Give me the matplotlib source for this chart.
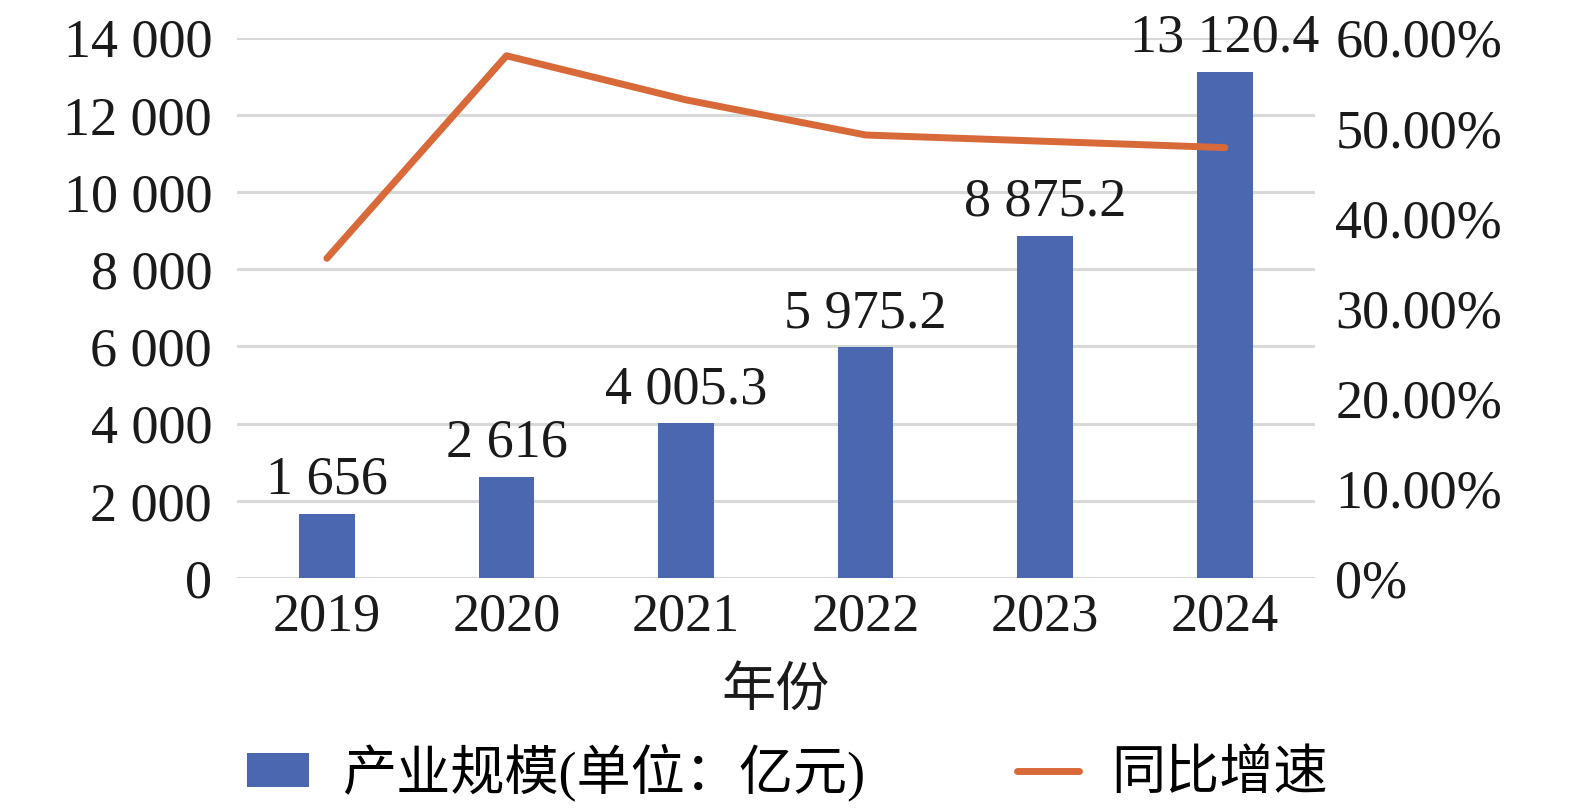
import matplotlib
matplotlib.use("Agg")
import matplotlib.pyplot as plt
from matplotlib.ticker import FuncFormatter

plt.rcParams['font.family'] = ['Liberation Serif', 'Noto Sans CJK SC']

# data
years = ["2019", "2020", "2021", "2022", "2023", "2024"]
scale = [1656, 2616, 4005.3, 5975.2, 8875.2, 13120.4]
growth = [0.355, 0.580, 0.531, 0.492, 0.485, 0.478]

bar_color = "#4A67B0"
line_color = "#D86A3A"
grid_color = "#D9D9D9"
fs = 39


def fmt_num(v):
    if float(v).is_integer():
        s = "{:,}".format(int(v))
    else:
        s = "{:,}".format(v)
    return s.replace(",", " ")


fig = plt.figure(figsize=(15.75, 8.1), dpi=100)
ax = fig.add_axes([0.1505, 0.2864, 0.6842, 0.667])
ax2 = ax.twinx()

x = list(range(len(years)))
bars = ax.bar(x, scale, width=0.31, color=bar_color, label="产业规模(单位：亿元)", zorder=3)
line, = ax2.plot(x, growth, color=line_color, linewidth=5, label="同比增速",
                 solid_capstyle="round", zorder=4)

for xi, v in zip(x, scale):
    ax.annotate(fmt_num(v), (xi, v), xytext=(0, 6), textcoords="offset points",
                ha="center", va="bottom", fontsize=fs, color="#1a1a1a")

ax.set_xlim(-0.5, len(years) - 0.5)
ax.set_ylim(0, 14000)
ax.set_yticks(range(0, 14001, 2000))
ax.yaxis.set_major_formatter(FuncFormatter(lambda v, p: fmt_num(v)))
ax.set_xticks(x)
ax.set_xticklabels(years)
ax.grid(axis="y", color=grid_color, linewidth=2.2, zorder=0)
ax.set_axisbelow(True)

ax2.set_ylim(0, 0.6)
ax2.set_yticks([i / 10 for i in range(7)])
ax2.yaxis.set_major_formatter(FuncFormatter(lambda v, p: "0%" if v == 0 else "{:.2f}%".format(v * 100)))

for a in (ax, ax2):
    for s in a.spines.values():
        s.set_visible(False)
    a.tick_params(length=0, labelsize=fs, colors="#1a1a1a")
ax.tick_params(axis="y", pad=18)
ax.tick_params(axis="x", pad=10)
ax2.tick_params(axis="y", pad=15)

ax.set_xlabel("年份", fontsize=fs, color="#1a1a1a", labelpad=18)

fig.legend([bars, line], ["产业规模(单位：亿元)", "同比增速"], loc="center",
           bbox_to_anchor=(0.5, 0.047), ncol=2, frameon=False, fontsize=fs,
           handlelength=1.15, handleheight=0.6, columnspacing=2.8, handletextpad=0.6)

fig.savefig("out.png", dpi=100)
